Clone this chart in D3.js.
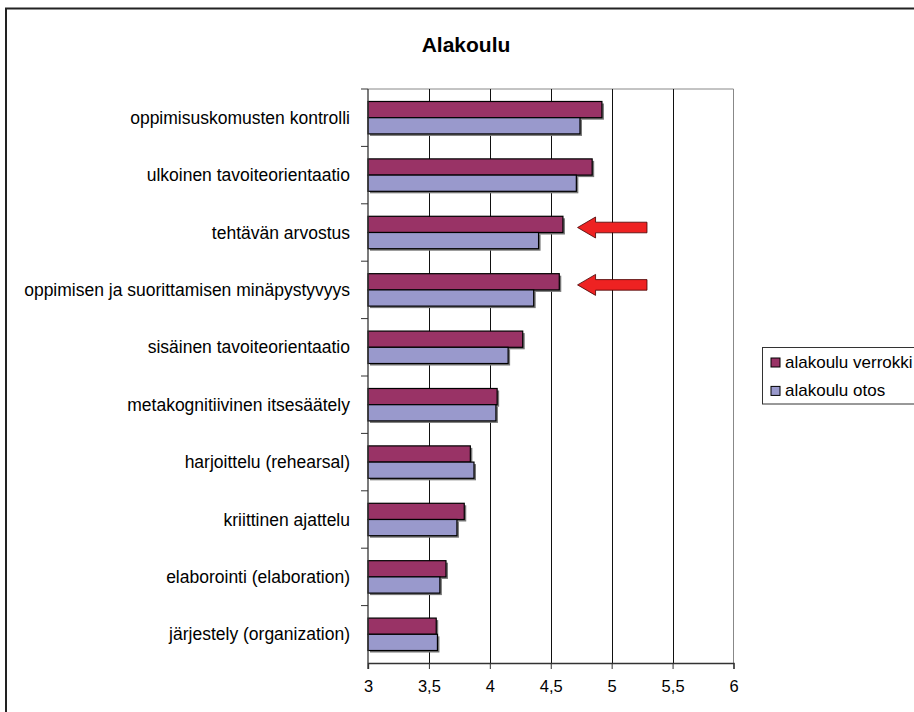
<!DOCTYPE html>
<html>
<head>
<meta charset="utf-8">
<script src="https://cdn.jsdelivr.net/npm/d3@7"></script>
<style>
  body { margin: 0; background: #fff; }
  text { font-family: Arial, "Liberation Sans", sans-serif; fill: #000; }
</style>
</head>
<body>
<div class="viz"></div>
<script>
// data
const categories = [
    'oppimisuskomusten kontrolli',
    'ulkoinen tavoiteorientaatio',
    'tehtävän arvostus',
    'oppimisen ja suorittamisen minäpystyvyys',
    'sisäinen tavoiteorientaatio',
    'metakognitiivinen itsesäätely',
    'harjoittelu (rehearsal)',
    'kriittinen ajattelu',
    'elaborointi (elaboration)',
    'järjestely (organization)'
];
const seriesNames = ['alakoulu verrokki', 'alakoulu otos'];
const verrokki = [4.92, 4.84, 4.60, 4.57, 4.27, 4.06, 3.84, 3.79, 3.64, 3.56];
const otos = [4.74, 4.71, 4.40, 4.36, 4.15, 4.05, 3.87, 3.73, 3.59, 3.57];
const xTicks = [3, 3.5, 4, 4.5, 5, 5.5, 6];
// arrows drawn beside two categories (value range of the arrow)
const arrowCats = ['tehtävän arvostus', 'oppimisen ja suorittamisen minäpystyvyys'];
const arrowFrom = 5.29;
const arrowTo = 4.72;

const colors = ['#993366', '#9999cc'];
const W = 914, H = 712;

const svg = d3.select('.viz').append('svg')
    .attr('width', W)
    .attr('height', H);

// chart frame
svg.append('rect')
    .attr('x', 6).attr('y', 8.5)
    .attr('width', W + 20).attr('height', H + 20)
    .attr('fill', '#fff')
    .attr('stroke', '#222')
    .attr('stroke-width', 2);

svg.append('text')
    .attr('x', 466).attr('y', 52)
    .attr('text-anchor', 'middle')
    .style('font-size', '21px')
    .style('font-weight', 'bold')
    .text('Alakoulu');

const pLeft = 368, pRight = 733.5, pTop = 89, pBottom = 663;

const x = d3.scaleLinear().domain([3, 6]).range([pLeft, pRight]);
const y = d3.scaleBand().domain(categories).range([pTop, pBottom]);
const ySub = d3.scaleBand().domain([0, 1]).range([0, y.bandwidth()])
    .paddingInner(0).paddingOuter(0.77);

const rows = categories.map((c, i) => ({ cat: c, vals: [verrokki[i], otos[i]] }));

// plot border (top/right) and grid
svg.append('path')
    .attr('d', `M${pLeft},${pTop}H${pRight}V${pBottom}`)
    .attr('fill', 'none')
    .attr('stroke', '#888')
    .attr('stroke-width', 1);

svg.append('g')
    .selectAll('line')
    .data(xTicks.filter(t => t > 3 && t < 6))
    .enter()
    .append('line')
    .attr('x1', d => Math.round(x(d)) + 0.5)
    .attr('x2', d => Math.round(x(d)) + 0.5)
    .attr('y1', pTop)
    .attr('y2', pBottom)
    .attr('stroke', '#111')
    .attr('stroke-width', 1);

// bars
const groups = svg.append('g')
    .selectAll('g')
    .data(rows)
    .enter()
    .append('g')
    .attr('transform', d => `translate(0,${y(d.cat)})`);

groups.selectAll('rect.shadow')
    .data(d => d.vals)
    .enter()
    .append('rect')
    .attr('class', 'shadow')
    .attr('x', x(3) + 2)
    .attr('y', (d, i) => ySub(i) + 2)
    .attr('width', d => x(d) - x(3))
    .attr('height', ySub.bandwidth())
    .attr('fill', '#777');

groups.selectAll('rect.bar')
    .data(d => d.vals)
    .enter()
    .append('rect')
    .attr('class', 'bar')
    .attr('x', x(3))
    .attr('y', (d, i) => ySub(i))
    .attr('width', d => x(d) - x(3))
    .attr('height', ySub.bandwidth())
    .attr('fill', (d, i) => colors[i])
    .attr('stroke', '#000')
    .attr('stroke-width', 1.2);

// y axis
svg.append('line')
    .attr('x1', pLeft).attr('x2', pLeft)
    .attr('y1', pTop).attr('y2', pBottom + 6)
    .attr('stroke', '#333').attr('stroke-width', 1.3);

svg.append('g')
    .selectAll('line')
    .data(d3.range(categories.length))
    .enter()
    .append('line')
    .attr('x1', pLeft - 7)
    .attr('x2', pLeft)
    .attr('y1', d => y.step() * d + pTop)
    .attr('y2', d => y.step() * d + pTop)
    .attr('stroke', '#333');

svg.append('g')
    .selectAll('text')
    .data(categories)
    .enter()
    .append('text')
    .attr('x', 350)
    .attr('y', d => y(d) + y.bandwidth() / 2)
    .attr('dy', '0.35em')
    .attr('text-anchor', 'end')
    .style('font-size', '17.5px')
    .text(d => d);

// x axis
const xAxis = d3.axisBottom(x)
    .tickValues(xTicks)
    .tickSize(6)
    .tickFormat(d => String(d).replace('.', ','));

const gx = svg.append('g')
    .attr('transform', `translate(0,${pBottom})`)
    .call(xAxis);
gx.select('.domain').attr('stroke', '#333').attr('stroke-width', 1.3);
gx.selectAll('.tick line').attr('stroke', '#333');
gx.selectAll('.tick text')
    .attr('y', 17)
    .style('font-size', '16.5px')
    .style('font-family', 'Arial, "Liberation Sans", sans-serif');

// arrows
const arrow = d3.line();
svg.append('g')
    .selectAll('path')
    .data(arrowCats)
    .enter()
    .append('path')
    .attr('d', d => {
        const cy = y(d) + y.bandwidth() / 2 - 5;
        const tip = x(arrowTo), tail = x(arrowFrom), base = tip + 18;
        return arrow([
            [tip, cy], [base, cy - 10.5], [base, cy - 5.3], [tail, cy - 5.3],
            [tail, cy + 5.3], [base, cy + 5.3], [base, cy + 10.5]
        ]) + 'Z';
    })
    .attr('fill', '#ee2222')
    .attr('stroke', '#400')
    .attr('stroke-width', 0.8);

// legend
const lg = svg.append('g');
lg.append('rect')
    .attr('x', 762.5).attr('y', 347.5)
    .attr('width', 200).attr('height', 56.5)
    .attr('fill', '#fff')
    .attr('stroke', '#333')
    .attr('stroke-width', 1);

const items = lg.selectAll('g')
    .data(seriesNames)
    .enter()
    .append('g')
    .attr('transform', (d, i) => `translate(0,${358 + i * 28.4})`);

items.append('rect')
    .attr('x', 771).attr('y', 0)
    .attr('width', 9).attr('height', 9)
    .attr('fill', (d, i) => colors[i])
    .attr('stroke', '#000');

items.append('text')
    .attr('x', 785).attr('y', 9.5)
    .style('font-size', '17px')
    .text(d => d);
</script>
</body>
</html>
